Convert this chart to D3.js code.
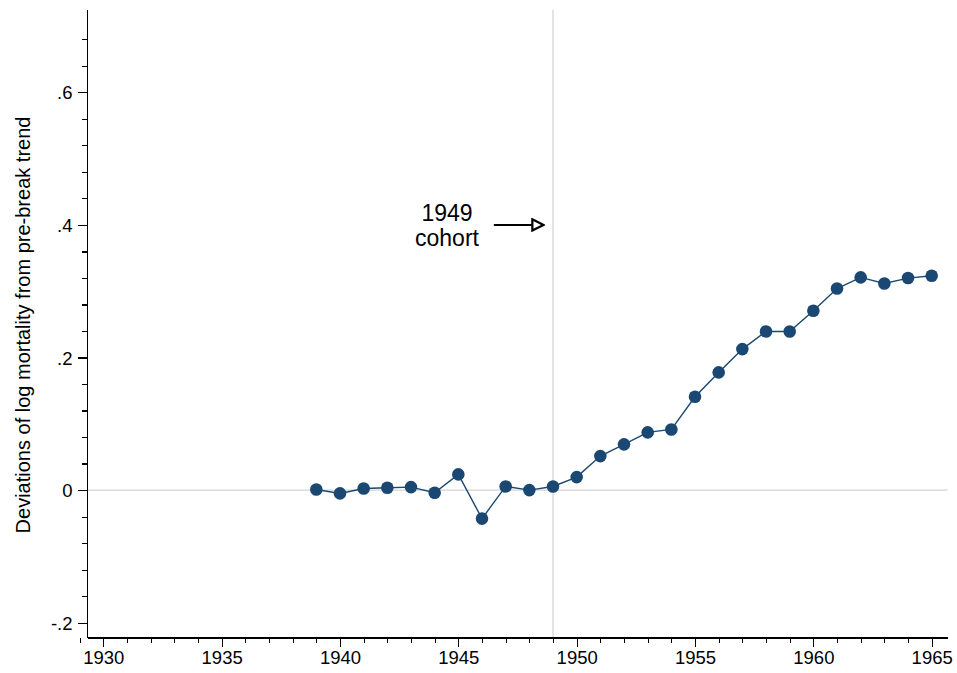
<!DOCTYPE html>
<html>
<head>
<meta charset="utf-8">
<script src="https://cdn.jsdelivr.net/npm/d3@7"></script>
<style>
  body { margin: 0; background: #fff; }
  svg { display: block; font-family: "Liberation Sans", Arial, sans-serif; }
  .axis path, .axis line { stroke: #000; stroke-width: 1.2; shape-rendering: crispEdges; }
  .axis text { font-size: 18.5px; fill: #000; }
</style>
</head>
<body>
<div id="chart"></div>
<script>
var years = [1939, 1940, 1941, 1942, 1943, 1944, 1945, 1946, 1947, 1948, 1949, 1950, 1951, 1952,
             1953, 1954, 1955, 1956, 1957, 1958, 1959, 1960, 1961, 1962, 1963, 1964, 1965];
var deviations = [0.001, -0.005, 0.0025, 0.0035, 0.0045, -0.004, 0.0237, -0.043, 0.0055, 0.0, 0.0055,
                  0.0196, 0.0513, 0.069, 0.087, 0.0915, 0.1408, 0.1775, 0.2127, 0.2393, 0.2393,
                  0.2705, 0.304, 0.3208, 0.3117, 0.3198, 0.3232];
var xTicks = [1930, 1935, 1940, 1945, 1950, 1955, 1960, 1965];
var yTicks = [-0.2, 0, 0.2, 0.4, 0.6];
var yTickLabels = ['-.2', '0', '.2', '.4', '.6'];
var breakYear = 1949;
var annotation = ['1949', 'cohort'];

var width = 957, height = 673;

var svg = d3.select('#chart').append('svg')
    .attr('width', width)
    .attr('height', height);

var xScale = d3.scaleLinear().domain([1930, 1965]).range([103.3, 931.7]),
    yScale = d3.scaleLinear().domain([-0.2, 0.6]).range([622.7, 92.3]);

var plotLeft = 87.5, plotRight = 947.5, plotTop = 10, plotBottom = 638;

// reference lines
svg.append('line')
    .attr('x1', plotLeft).attr('x2', plotRight)
    .attr('y1', yScale(0)).attr('y2', yScale(0))
    .style('stroke', '#d4d4d4').style('stroke-width', 1.3);

svg.append('line')
    .attr('x1', xScale(breakYear)).attr('x2', xScale(breakYear))
    .attr('y1', plotTop).attr('y2', plotBottom)
    .style('stroke', '#d4d4d4').style('stroke-width', 1.3);

// minor ticks
var yMinor = d3.range(-0.2, 0.7, 0.04).filter(function(d) {
  return Math.abs(Math.round(d * 5) - d * 5) > 1e-6;
});
svg.append('g')
    .attr('class', 'axis')
    .attr('transform', 'translate(' + plotLeft + ',0)')
    .call(d3.axisLeft(yScale).tickValues(yMinor).tickSize(6).tickFormat(''))
    .call(function(g) { g.select('.domain').remove(); });

var xMinor = d3.range(1929, 1966).filter(function(d) { return d % 5 !== 0; });
svg.append('g')
    .attr('class', 'axis')
    .attr('transform', 'translate(0,' + plotBottom + ')')
    .call(d3.axisBottom(xScale).tickValues(xMinor).tickSize(5).tickFormat(''))
    .call(function(g) { g.select('.domain').remove(); });

// major axes
var yAxis = svg.append('g')
    .attr('class', 'axis')
    .attr('transform', 'translate(' + plotLeft + ',0)')
    .call(d3.axisLeft(yScale).tickValues(yTicks).tickSize(10).tickPadding(5)
      .tickFormat(function(d, i) { return yTickLabels[i]; }));
yAxis.select('.domain').attr('d', 'M0,' + plotTop + 'V' + plotBottom);
yAxis.selectAll('text').attr('dy', '0.36em');

var xAxis = svg.append('g')
    .attr('class', 'axis')
    .attr('transform', 'translate(0,' + plotBottom + ')')
    .call(d3.axisBottom(xScale).tickValues(xTicks).tickSize(9).tickPadding(4).tickFormat(d3.format('d')));
xAxis.select('.domain').attr('d', 'M' + plotLeft + ',0H' + plotRight);

// y axis title
svg.append('text')
    .attr('transform', 'translate(30,325) rotate(-90)')
    .style('text-anchor', 'middle')
    .style('font-size', '20px')
    .text('Deviations of log mortality from pre-break trend');

// series
var data = years.map(function(y, i) { return {year: y, value: deviations[i]}; });

var line = d3.line()
    .x(function(d) { return xScale(d.year); })
    .y(function(d) { return yScale(d.value); });

svg.append('path')
    .datum(data)
    .attr('d', line)
    .style('fill', 'none')
    .style('stroke', '#1a4872')
    .style('stroke-width', 1.4);

svg.selectAll('.dot')
    .data(data)
  .enter().append('circle')
    .attr('class', 'dot')
    .attr('r', 6.3)
    .attr('cx', function(d) { return xScale(d.year); })
    .attr('cy', function(d) { return yScale(d.value); })
    .style('fill', '#1a4872');

// annotation
svg.append('defs').append('marker')
    .attr('id', 'arrow')
    .attr('viewBox', '0 0 10 10')
    .attr('refX', 9).attr('refY', 5)
    .attr('markerWidth', 14).attr('markerHeight', 14)
    .attr('markerUnits', 'userSpaceOnUse')
    .attr('orient', 'auto')
  .append('path')
    .attr('d', 'M1,1 L9,5 L1,9 Z')
    .style('fill', '#fff')
    .style('stroke', '#000')
    .style('stroke-width', 1.6);

svg.append('line')
    .attr('x1', xScale(1946.5)).attr('x2', xScale(1948.6))
    .attr('y1', yScale(0.4)).attr('y2', yScale(0.4))
    .style('stroke', '#000').style('stroke-width', 2)
    .attr('marker-end', 'url(#arrow)');

svg.selectAll('.annot')
    .data(annotation)
  .enter().append('text')
    .attr('class', 'annot')
    .attr('x', 447)
    .attr('y', function(d, i) { return 221 + i * 25; })
    .style('text-anchor', 'middle')
    .style('font-size', '23px')
    .text(function(d) { return d; });
</script>
</body>
</html>
